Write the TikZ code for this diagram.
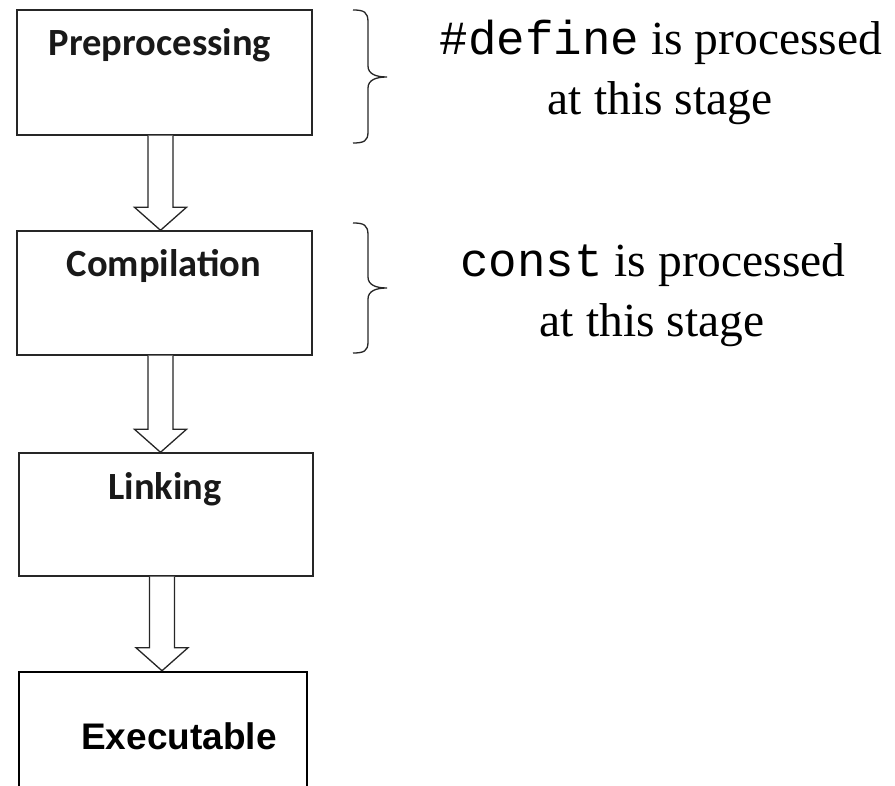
\documentclass[tikz,border=0pt]{standalone}
\usepackage{fontspec}
\setmainfont{Liberation Serif}
\newfontfamily\calib{Carlito}
\newfontfamily\arialf{Liberation Sans}
\newfontfamily\courf{Liberation Mono}
\usetikzlibrary{calc}
\tikzset{
  stagebox/.style={draw=black!85, line width=1.4pt, rectangle, inner sep=0pt},
  stagelbl/.style={anchor=base, inner sep=0pt, font=\calib\bfseries\fontsize{38.5}{40}\selectfont, text=black!90},
  notelbl/.style={anchor=base, inner sep=0pt, font=\fontsize{47.5}{56}\selectfont},
  bracepath/.style={draw=black!85, line width=1.3pt},
  blockarr/.style={draw=black!85, line width=1.3pt, fill=white, line join=miter},
}
\newcommand{\blockarrow}[2]{%
  \draw[blockarr] let \p1=($(#1.south)+(-4pt,0)$), \p2=($(#2.north)+(-4pt,0)$) in
    (\x1-12.5pt,\y1) -- (\x1-12.5pt,\y2+23pt) -- (\x1-26pt,\y2+23pt) -- (\x1,\y2)
    -- (\x1+26pt,\y2+23pt) -- (\x1+12.5pt,\y2+23pt) -- (\x1+12.5pt,\y1);
}
\begin{document}
\begin{tikzpicture}[x=1pt,y=-1pt]
\useasboundingbox (0,0) rectangle (895,786);
% boxes
\node[stagebox, minimum width=295pt, minimum height=125pt] (pre) at (164.5,72.5) {};
\node[stagebox, minimum width=295pt, minimum height=124pt] (comp) at (164.5,293) {};
\node[stagebox, minimum width=294pt, minimum height=123pt] (link) at (166,514.5) {};
\node[draw=black, line width=2.5pt, rectangle, inner sep=0pt, minimum width=288pt, minimum height=150pt] (exe) at (163,747) {};
% labels
\node[stagelbl] (preT) at (160,56) {Preprocessing};
\node[stagelbl] (compT) at (164,277) {Compilation};
\node[stagelbl] (linkT) at (165,499) {Linking};
\node[anchor=base, inner sep=0pt, font=\arialf\bfseries\fontsize{37}{40}\selectfont] (exeT) at (179,749) {Executable};
% arrows
\blockarrow{pre}{comp}
\blockarrow{comp}{link}
\blockarrow{link}{exe}
% braces
\draw[bracepath] (353,10) .. controls (364,10) and (368,12) .. (368,22) -- (368,66)
  .. controls (368,74) and (376,77) .. (387,77)
  .. controls (376,77) and (368,80) .. (368,88) -- (368,132)
  .. controls (368,141) and (364,143) .. (353,143);
\draw[bracepath] (353,223) .. controls (364,223) and (368,225) .. (368,235) -- (368,277)
  .. controls (368,285) and (376,288) .. (387,288)
  .. controls (376,288) and (368,291) .. (368,299) -- (368,342)
  .. controls (368,351) and (364,353) .. (353,353);
% notes
\node[notelbl] (n1a) at (661,55) {{\courf\#define} is processed};
\node[notelbl] (n1b) at (660,115) {at this stage};
\node[notelbl] (n2a) at (653,277) {{\courf const} is processed};
\node[notelbl] (n2b) at (652,337) {at this stage};
\end{tikzpicture}
\end{document}
